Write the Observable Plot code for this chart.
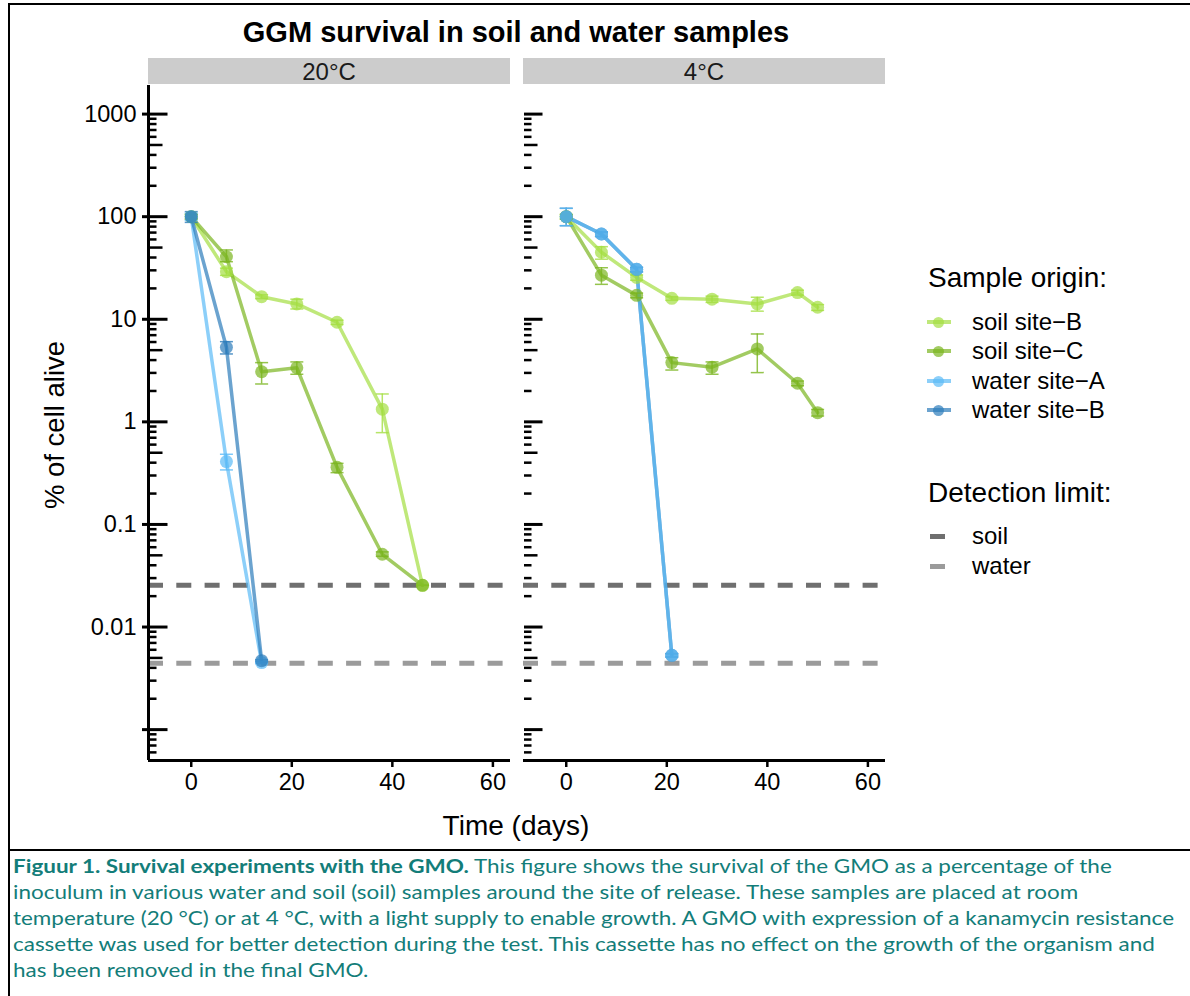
<!DOCTYPE html>
<html><head><meta charset="utf-8">
<script src="https://cdn.jsdelivr.net/npm/d3@7"></script>
<script src="https://cdn.jsdelivr.net/npm/@observablehq/plot@0.6"></script>
<style>
html,body{margin:0;padding:0;background:#fff;}
body{width:1190px;height:996px;overflow:hidden;position:relative;font-family:"Liberation Sans",Arial,sans-serif;color:#000;}
.abs{position:absolute;white-space:nowrap;}
#chart{position:absolute;left:0;top:0;}
.strip{position:absolute;background:#cccccc;color:#1a1a1a;font-size:24px;text-align:center;}
.cap{position:absolute;left:13px;white-space:nowrap;color:#137d79;font-family:Lato,"Open Sans",sans-serif;transform-origin:0 50%;}
</style></head><body>
<div id="root"></div>
<script>
// ---------- data ----------
const temps = ["20°C", "4°C"];
const sites = ["soil site−B", "soil site−C", "water site−A", "water site−B"];
const siteColors = ["#a4de41", "#7ab51f", "#5bbaf6", "#2c7cba"];

// 20 °C
const daysSoil20 = [0, 7, 14, 21, 29, 38, 46];
const soilB20   = [100, 29.1, 16.6, 14.1, 9.35, 1.33, 0.0255];
const soilB20Lo = [95, 26.8, 15.9, 12.6, 8.9, 0.785, 0.0255];
const soilB20Hi = [105, 31.5, 17.3, 15.7, 9.8, 1.87, 0.0255];
const soilC20   = [100, 40.7, 3.08, 3.37, 0.36, 0.0512, 0.0255];
const soilC20Lo = [95, 36.4, 2.34, 2.91, 0.32, 0.049, 0.0255];
const soilC20Hi = [105, 47.4, 3.78, 3.84, 0.394, 0.054, 0.0255];
const daysWater20 = [0, 7, 14];
const waterA20   = [100, 0.41, 0.0045];
const waterA20Lo = [92, 0.34, 0.0044];
const waterA20Hi = [108, 0.483, 0.0046];
const waterB20   = [100, 5.33, 0.0047];
const waterB20Lo = [88, 4.59, 0.0046];
const waterB20Hi = [112, 6.05, 0.0048];

// 4 °C
const daysSoil4 = [0, 7, 14, 21, 29, 38, 46, 50];
const soilB4   = [100, 45.0, 25.6, 16.0, 15.7, 14.1, 18.2, 13.1];
const soilB4Lo = [95, 38.5, 24.0, 15.3, 14.6, 12.0, 17.2, 12.2];
const soilB4Hi = [105, 51.0, 27.0, 16.6, 16.8, 16.4, 19.2, 13.9];
const soilC4   = [100, 26.9, 17.1, 3.78, 3.41, 5.14, 2.38, 1.23];
const soilC4Lo = [95, 21.9, 16.2, 3.2, 2.91, 3.02, 2.25, 1.14];
const soilC4Hi = [105, 31.8, 18.0, 4.22, 3.84, 7.19, 2.5, 1.32];
const daysWater4 = [0, 7, 14, 21];
const waterA4   = [100, 67.8, 30.7, 0.0053];
const waterA4Lo = [81.7, 64, 29, 0.0051];
const waterA4Hi = [120.7, 71, 32, 0.0055];
const waterB4   = [100, 67.8, 30.7, 0.0053];
const waterB4Lo = [81.7, 64, 29, 0.0051];
const waterB4Hi = [120.7, 71, 32, 0.0055];

// detection limits
const limitNames  = ["soil", "water"];
const limitValues = [0.0255, 0.00443];
const limitColors = ["#6f6f6f", "#9b9b9b"];

// axes
const xDomain = [-8.5, 63.5];
const xTicks = [0, 20, 40, 60];
const yDomain = [0.0005, 1900];
const yMajor = [0.001, 0.01, 0.1, 1, 10, 100, 1000];
const yLabels = ["", "0.01", "0.1", "1", "10", "100", "1000"];

// ---------- build table ----------
const rows = [];
function addSeries(temp, site, days, vals, lo, hi) {
  days.forEach((d, i) => rows.push({temp, site, day: d, value: vals[i], lo: lo[i], hi: hi[i]}));
}
addSeries(temps[0], sites[0], daysSoil20, soilB20, soilB20Lo, soilB20Hi);
addSeries(temps[0], sites[1], daysSoil20, soilC20, soilC20Lo, soilC20Hi);
addSeries(temps[0], sites[2], daysWater20, waterA20, waterA20Lo, waterA20Hi);
addSeries(temps[0], sites[3], daysWater20, waterB20, waterB20Lo, waterB20Hi);
addSeries(temps[1], sites[0], daysSoil4, soilB4, soilB4Lo, soilB4Hi);
addSeries(temps[1], sites[1], daysSoil4, soilC4, soilC4Lo, soilC4Hi);
addSeries(temps[1], sites[3], daysWater4, waterB4, waterB4Lo, waterB4Hi);
addSeries(temps[1], sites[2], daysWater4, waterA4, waterA4Lo, waterA4Hi);

const limits = limitNames.map((n, i) => ({name: n, v: limitValues[i], c: limitColors[i]}));

// log minor ticks
const minorV = [], midV = [];
for (let e = -4; e <= 2; e++) {
  for (const m of [2, 3, 4, 6, 7, 8, 9]) { const v = m * Math.pow(10, e); if (v >= yDomain[0] && v <= yDomain[1]) minorV.push(v); }
  const v5 = 5 * Math.pow(10, e); if (v5 >= yDomain[0] && v5 <= yDomain[1]) midV.push(v5);
}
const tickRows = (vals, t) => vals.map(v => ({v, temp: t}));
const labelRows = yMajor.map((v, i) => ({v, label: yLabels[i], temp: temps[0]}));

// ---------- layout ----------
const W = 900, H = 850, mL = 147, mR = 15, mT = 85, mB = 90;
const padIn = 13 / 375;
const bw = (W - mL - mR) * (1 - padIn) / (2 - padIn);

const capSymbol = {draw(ctx, size) { const w = Math.sqrt(size / Math.PI); ctx.moveTo(-w, 0); ctx.lineTo(w, 0); }};

const plot = Plot.plot({
  width: W, height: H,
  marginTop: mT, marginBottom: mB, marginLeft: mL, marginRight: mR,
  style: {fontFamily: "'Liberation Sans', Arial, sans-serif", fontSize: "23.5px", color: "#000", background: "transparent", overflow: "visible"},
  x: {domain: xDomain},
  y: {type: "log", domain: yDomain, axis: null},
  fx: {domain: temps, paddingInner: padIn, paddingOuter: 0, axis: null},
  color: {domain: sites, range: siteColors},
  marks: [
    // detection limits
    Plot.ruleY(limits, {y: "v", stroke: "c", strokeWidth: 5, strokeDasharray: "15,13.3"}),
    // axis lines
    Plot.ruleX([temps[0]], {x: () => xDomain[0], fx: d => d, strokeWidth: 3}),
    Plot.ruleY([yDomain[0]], {strokeWidth: 3}),
    // y ticks panel 1
    Plot.tickY(tickRows(yMajor, temps[0]), {y: "v", fx: "temp", insetLeft: -6, insetRight: bw - 20, strokeWidth: 3}),
    Plot.tickY(tickRows(midV, temps[0]), {y: "v", fx: "temp", insetLeft: 0, insetRight: bw - 15, strokeWidth: 2.5}),
    Plot.tickY(tickRows(minorV, temps[0]), {y: "v", fx: "temp", insetLeft: 0, insetRight: bw - 9, strokeWidth: 2.5}),
    // y ticks panel 2
    Plot.tickY(tickRows(yMajor, temps[1]), {y: "v", fx: "temp", insetLeft: 1, insetRight: bw - 20, strokeWidth: 3}),
    Plot.tickY(tickRows(midV, temps[1]), {y: "v", fx: "temp", insetLeft: 1, insetRight: bw - 15, strokeWidth: 2.5}),
    Plot.tickY(tickRows(minorV, temps[1]), {y: "v", fx: "temp", insetLeft: 1, insetRight: bw - 9, strokeWidth: 2.5}),
    // y labels
    Plot.text(labelRows, {y: "v", text: "label", fx: "temp", frameAnchor: "left", textAnchor: "end", dx: -12, fontSize: 23.5}),
    // x axis
    Plot.axisX({ticks: xTicks, tickSize: 7, strokeWidth: 2.5, tickPadding: 6, fontSize: 23.5, label: null}),
    // data
    Plot.line(rows, {x: "day", y: "value", z: "site", stroke: "site", fx: "temp", strokeWidth: 3.5, strokeOpacity: 0.7}),
    Plot.ruleX(rows, {x: "day", y1: "lo", y2: "hi", stroke: "site", fx: "temp", strokeWidth: 1.5, strokeOpacity: 0.8}),
    Plot.dot(rows, {x: "day", y: "lo", symbol: capSymbol, r: 6.5, stroke: "site", fx: "temp", strokeWidth: 1.5, strokeOpacity: 0.8}),
    Plot.dot(rows, {x: "day", y: "hi", symbol: capSymbol, r: 6.5, stroke: "site", fx: "temp", strokeWidth: 1.5, strokeOpacity: 0.8}),
    Plot.dot(rows, {x: "day", y: "value", fill: "site", fx: "temp", r: 6.5, fillOpacity: 0.7})
  ]
});

const root = document.getElementById("root");
plot.id = "chart";
root.appendChild(plot);

// figure frame
function box(css) { const d = document.createElement("div"); d.className = "abs"; d.style.cssText += css; root.appendChild(d); return d; }
box("left:8px;top:3px;width:1200px;height:844px;border-left:2.5px solid #000;border-top:2.5px solid #000;border-bottom:2.5px solid #000;");
box("left:8px;top:849px;width:10px;height:160px;border-left:2.5px solid #000;");

// title
const title = box("left:0;width:1032px;top:14px;text-align:center;font-weight:bold;font-size:29px;line-height:36px;");
title.textContent = "GGM survival in soil and water samples";

// strips
const fx = plot.scale("fx");
temps.forEach(t => {
  const s = document.createElement("div");
  s.className = "strip";
  const x0 = fx.apply(t);
  s.style.left = x0 + "px"; s.style.width = fx.bandwidth + "px";
  s.style.top = "58px"; s.style.height = "26px"; s.style.lineHeight = "27px";
  s.textContent = t;
  root.appendChild(s);
});

// axis titles
const yt = box("left:55px;top:425px;font-size:27.5px;line-height:30px;transform:translate(-50%,-50%) rotate(-90deg);");
yt.textContent = "% of cell alive";
const xt = box("left:516px;top:826px;font-size:28px;line-height:30px;transform:translate(-50%,-50%);");
xt.textContent = "Time (days)";

// legends
const lt1 = box("left:928px;top:278px;font-size:28px;line-height:32px;transform:translateY(-50%);");
lt1.textContent = "Sample origin:";
const itemY = [322, 351, 381, 410];
sites.forEach((s, i) => {
  const y = itemY[i];
  box(`left:927px;top:${y - 1.75}px;width:24px;height:3.5px;background:${siteColors[i]};opacity:0.7;`);
  box(`left:933px;top:${y - 5.5}px;width:11px;height:11px;border-radius:50%;background:${siteColors[i]};opacity:0.7;`);
  const t = box(`left:972px;top:${y}px;font-size:24px;line-height:28px;transform:translateY(-50%);`);
  t.textContent = s;
});
const lt2 = box("left:928px;top:493px;font-size:28px;line-height:32px;transform:translateY(-50%);");
lt2.textContent = "Detection limit:";
const limY = [536, 566];
limits.forEach((l, i) => {
  box(`left:930px;top:${limY[i] - 2.5}px;width:15px;height:5px;background:${l.c};`);
  const t = box(`left:972px;top:${limY[i]}px;font-size:24px;line-height:28px;transform:translateY(-50%);`);
  t.textContent = l.name;
});

// caption
const capLines = [
  "<b>Figuur 1. Survival experiments with the GMO.</b> This figure shows the survival of the GMO as a percentage of the",
  "inoculum in various water and soil (soil) samples around the site of release. These samples are placed at room",
  "temperature (20 °C) or at 4 °C, with a light supply to enable growth. A GMO with expression of a kanamycin resistance",
  "cassette was used for better detection during the test. This cassette has no effect on the growth of the organism and",
  "has been removed in the final GMO."
];
const capEls = capLines.map((h, i) => {
  const d = document.createElement("div");
  d.className = "cap";
  d.style.top = (853 + i * 26) + "px";
  d.style.lineHeight = "26px";
  d.style.fontSize = "19px";
  d.innerHTML = h;
  root.appendChild(d);
  return d;
});
const w3 = capEls[2].getBoundingClientRect().width;
const sx = 1161 / w3;
capEls.forEach(d => d.style.transform = `scaleX(${sx})`);
</script></body></html>
